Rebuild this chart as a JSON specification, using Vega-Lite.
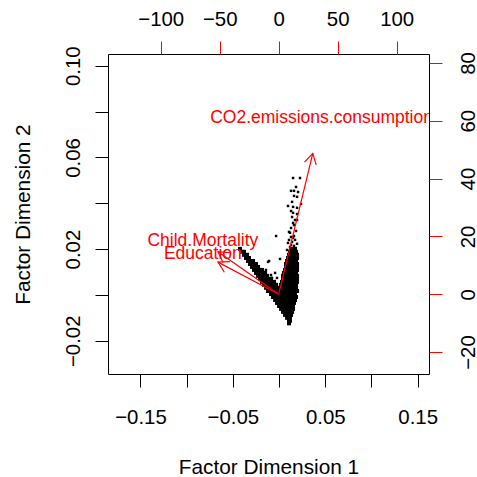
{
  "$schema": "https://vega.github.io/schema/vega-lite/v6.json",
  "width": 321,
  "height": 320,
  "autosize": {"type": "none"},
  "padding": {"left": 108, "top": 54, "right": 48, "bottom": 103},
  "background": "white",
  "config": {
    "view": {"stroke": "black", "strokeWidth": 1},
    "font": "Liberation Sans",
    "axis": {
      "grid": false,
      "domain": false,
      "labelFont": "Liberation Sans",
      "titleFont": "Liberation Sans",
      "labelFontSize": 20.4,
      "titleFontSize": 20.8,
      "labelColor": "black",
      "titleColor": "black",
      "titleFontWeight": "normal",
      "tickSize": 13,
      "tickWidth": 1,
      "labelOverlap": false,
      "labelFlush": false
    }
  },
  "datasets": {
    "sparse": [
      {"x": 0.0152, "y": 0.0510}, {"x": 0.0227, "y": 0.0510}, {"x": 0.0184, "y": 0.0471}, {"x": 0.0130, "y": 0.0454},
      {"x": 0.0162, "y": 0.0454}, {"x": 0.0206, "y": 0.0449}, {"x": 0.0162, "y": 0.0432}, {"x": 0.0195, "y": 0.0428},
      {"x": 0.0141, "y": 0.0406}, {"x": 0.0238, "y": 0.0397}, {"x": 0.0097, "y": 0.0388}, {"x": 0.0152, "y": 0.0384},
      {"x": 0.0195, "y": 0.0380}, {"x": 0.0130, "y": 0.0366}, {"x": 0.0152, "y": 0.0358}, {"x": 0.0195, "y": 0.0353},
      {"x": 0.0141, "y": 0.0340}, {"x": 0.0173, "y": 0.0327}, {"x": 0.0195, "y": 0.0327}, {"x": 0.0152, "y": 0.0314},
      {"x": 0.0162, "y": 0.0305}, {"x": 0.0130, "y": 0.0292}, {"x": -0.0032, "y": 0.0257}, {"x": 0.0119, "y": 0.0271},
      {"x": 0.0130, "y": 0.0253}, {"x": 0.0152, "y": 0.0249}, {"x": 0.0108, "y": 0.0240}, {"x": 0.0097, "y": 0.0227},
      {"x": 0.0141, "y": 0.0231}, {"x": 0.0195, "y": 0.0223}, {"x": 0.0119, "y": 0.0209}, {"x": -0.0108, "y": 0.0148},
      {"x": 0.0011, "y": 0.0157}, {"x": -0.0141, "y": 0.0109}, {"x": -0.0087, "y": 0.0087}, {"x": -0.0076, "y": 0.0074},
      {"x": -0.0119, "y": 0.0144}, {"x": -0.0043, "y": 0.0096}, {"x": -0.0022, "y": 0.0074}, {"x": 0.0087, "y": 0.0196},
      {"x": 0.0162, "y": 0.0257}, {"x": 0.0184, "y": 0.0279}, {"x": 0.0108, "y": 0.0275}, {"x": 0.0173, "y": 0.0240},
      {"x": 0.0130, "y": 0.0218}, {"x": 0.0162, "y": 0.0214}
    ],
    "dense": [
      {"x": -0.0422, "y": 0.0201}, {"x": 0.0130, "y": 0.0201}, {"x": 0.0173, "y": 0.0201},
      {"x": -0.0400, "y": 0.0188}, {"x": -0.0379, "y": 0.0188}, {"x": 0.0119, "y": 0.0188}, {"x": 0.0151, "y": 0.0188}, {"x": 0.0184, "y": 0.0188},
      {"x": -0.0379, "y": 0.0175}, {"x": -0.0346, "y": 0.0175}, {"x": 0.0108, "y": 0.0175}, {"x": 0.0141, "y": 0.0175}, {"x": 0.0173, "y": 0.0175}, {"x": 0.0195, "y": 0.0175},
      {"x": -0.0357, "y": 0.0161}, {"x": -0.0325, "y": 0.0161}, {"x": 0.0097, "y": 0.0161}, {"x": 0.0130, "y": 0.0161}, {"x": 0.0162, "y": 0.0161}, {"x": 0.0195, "y": 0.0161},
      {"x": -0.0335, "y": 0.0148}, {"x": -0.0303, "y": 0.0148}, {"x": -0.0281, "y": 0.0148}, {"x": 0.0087, "y": 0.0148}, {"x": 0.0119, "y": 0.0148}, {"x": 0.0151, "y": 0.0148}, {"x": 0.0184, "y": 0.0148},
      {"x": -0.0314, "y": 0.0135}, {"x": -0.0281, "y": 0.0135}, {"x": -0.0249, "y": 0.0135}, {"x": 0.0076, "y": 0.0135}, {"x": 0.0108, "y": 0.0135}, {"x": 0.0141, "y": 0.0135}, {"x": 0.0173, "y": 0.0135}, {"x": 0.0195, "y": 0.0135},
      {"x": -0.0292, "y": 0.0122}, {"x": -0.0260, "y": 0.0122}, {"x": -0.0227, "y": 0.0122}, {"x": 0.0076, "y": 0.0122}, {"x": 0.0108, "y": 0.0122}, {"x": 0.0141, "y": 0.0122}, {"x": 0.0173, "y": 0.0122}, {"x": 0.0195, "y": 0.0122},
      {"x": -0.0271, "y": 0.0109}, {"x": -0.0238, "y": 0.0109}, {"x": -0.0206, "y": 0.0109}, {"x": -0.0184, "y": 0.0109}, {"x": 0.0065, "y": 0.0109}, {"x": 0.0097, "y": 0.0109}, {"x": 0.0130, "y": 0.0109}, {"x": 0.0162, "y": 0.0109}, {"x": 0.0195, "y": 0.0109},
      {"x": -0.0249, "y": 0.0096}, {"x": -0.0216, "y": 0.0096}, {"x": -0.0184, "y": 0.0096}, {"x": -0.0151, "y": 0.0096}, {"x": 0.0054, "y": 0.0096}, {"x": 0.0087, "y": 0.0096}, {"x": 0.0119, "y": 0.0096}, {"x": 0.0151, "y": 0.0096}, {"x": 0.0184, "y": 0.0096},
      {"x": -0.0227, "y": 0.0083}, {"x": -0.0195, "y": 0.0083}, {"x": -0.0162, "y": 0.0083}, {"x": -0.0130, "y": 0.0083}, {"x": 0.0043, "y": 0.0083}, {"x": 0.0076, "y": 0.0083}, {"x": 0.0108, "y": 0.0083}, {"x": 0.0141, "y": 0.0083}, {"x": 0.0173, "y": 0.0083}, {"x": 0.0195, "y": 0.0083},
      {"x": -0.0206, "y": 0.0070}, {"x": -0.0173, "y": 0.0070}, {"x": -0.0141, "y": 0.0070}, {"x": -0.0108, "y": 0.0070}, {"x": -0.0087, "y": 0.0070}, {"x": 0.0043, "y": 0.0070}, {"x": 0.0076, "y": 0.0070}, {"x": 0.0108, "y": 0.0070}, {"x": 0.0141, "y": 0.0070}, {"x": 0.0173, "y": 0.0070}, {"x": 0.0195, "y": 0.0070},
      {"x": -0.0184, "y": 0.0057}, {"x": -0.0151, "y": 0.0057}, {"x": -0.0119, "y": 0.0057}, {"x": -0.0087, "y": 0.0057}, {"x": -0.0054, "y": 0.0057}, {"x": 0.0032, "y": 0.0057}, {"x": 0.0065, "y": 0.0057}, {"x": 0.0097, "y": 0.0057}, {"x": 0.0130, "y": 0.0057}, {"x": 0.0162, "y": 0.0057}, {"x": 0.0195, "y": 0.0057},
      {"x": -0.0162, "y": 0.0044}, {"x": -0.0130, "y": 0.0044}, {"x": -0.0097, "y": 0.0044}, {"x": -0.0065, "y": 0.0044}, {"x": -0.0032, "y": 0.0044}, {"x": 0.0022, "y": 0.0044}, {"x": 0.0054, "y": 0.0044}, {"x": 0.0087, "y": 0.0044}, {"x": 0.0119, "y": 0.0044}, {"x": 0.0151, "y": 0.0044}, {"x": 0.0184, "y": 0.0044},
      {"x": -0.0141, "y": 0.0031}, {"x": -0.0108, "y": 0.0031}, {"x": -0.0076, "y": 0.0031}, {"x": -0.0043, "y": 0.0031}, {"x": -0.0011, "y": 0.0031}, {"x": 0.0022, "y": 0.0031}, {"x": 0.0054, "y": 0.0031}, {"x": 0.0087, "y": 0.0031}, {"x": 0.0119, "y": 0.0031}, {"x": 0.0151, "y": 0.0031}, {"x": 0.0184, "y": 0.0031},
      {"x": -0.0119, "y": 0.0017}, {"x": -0.0087, "y": 0.0017}, {"x": -0.0054, "y": 0.0017}, {"x": -0.0022, "y": 0.0017}, {"x": 0.0011, "y": 0.0017}, {"x": 0.0043, "y": 0.0017}, {"x": 0.0076, "y": 0.0017}, {"x": 0.0108, "y": 0.0017}, {"x": 0.0141, "y": 0.0017}, {"x": 0.0173, "y": 0.0017}, {"x": 0.0195, "y": 0.0017},
      {"x": -0.0087, "y": 0.0004}, {"x": -0.0054, "y": 0.0004}, {"x": -0.0022, "y": 0.0004}, {"x": 0.0011, "y": 0.0004}, {"x": 0.0043, "y": 0.0004}, {"x": 0.0076, "y": 0.0004}, {"x": 0.0108, "y": 0.0004}, {"x": 0.0141, "y": 0.0004}, {"x": 0.0173, "y": 0.0004},
      {"x": -0.0065, "y": -0.0009}, {"x": -0.0032, "y": -0.0009}, {"x": 0.0000, "y": -0.0009}, {"x": 0.0032, "y": -0.0009}, {"x": 0.0065, "y": -0.0009}, {"x": 0.0097, "y": -0.0009}, {"x": 0.0130, "y": -0.0009}, {"x": 0.0162, "y": -0.0009}, {"x": 0.0184, "y": -0.0009},
      {"x": -0.0043, "y": -0.0022}, {"x": -0.0011, "y": -0.0022}, {"x": 0.0022, "y": -0.0022}, {"x": 0.0054, "y": -0.0022}, {"x": 0.0087, "y": -0.0022}, {"x": 0.0119, "y": -0.0022}, {"x": 0.0151, "y": -0.0022}, {"x": 0.0173, "y": -0.0022},
      {"x": -0.0022, "y": -0.0035}, {"x": 0.0011, "y": -0.0035}, {"x": 0.0043, "y": -0.0035}, {"x": 0.0076, "y": -0.0035}, {"x": 0.0108, "y": -0.0035}, {"x": 0.0141, "y": -0.0035}, {"x": 0.0162, "y": -0.0035},
      {"x": 0.0000, "y": -0.0048}, {"x": 0.0032, "y": -0.0048}, {"x": 0.0065, "y": -0.0048}, {"x": 0.0097, "y": -0.0048}, {"x": 0.0130, "y": -0.0048}, {"x": 0.0151, "y": -0.0048},
      {"x": 0.0022, "y": -0.0061}, {"x": 0.0054, "y": -0.0061}, {"x": 0.0087, "y": -0.0061}, {"x": 0.0119, "y": -0.0061}, {"x": 0.0151, "y": -0.0061},
      {"x": 0.0043, "y": -0.0074}, {"x": 0.0076, "y": -0.0074}, {"x": 0.0108, "y": -0.0074}, {"x": 0.0141, "y": -0.0074},
      {"x": 0.0065, "y": -0.0087}, {"x": 0.0097, "y": -0.0087}, {"x": 0.0130, "y": -0.0087},
      {"x": 0.0087, "y": -0.0100}, {"x": 0.0119, "y": -0.0100},
      {"x": 0.0108, "y": -0.0113}, {"x": 0.0119, "y": -0.0113},
      {"x": 0.0108, "y": -0.0124}
    ],
    "arrows": [
      {"var": "CO2.emissions.consumption", "x": 28.9, "y": 48.7},
      {"var": "Child.Mortality", "x": -51.5, "y": 14.7},
      {"var": "Education", "x": -51.5, "y": 11.1}
    ],
    "labels": [
      {"var": "CO2.emissions.consumption", "x": 36.3, "y": 60.9},
      {"var": "Child.Mortality", "x": -64.3, "y": 18.3},
      {"var": "Education", "x": -64.3, "y": 13.8}
    ]
  },
  "layer": [
    {
      "encoding": {
        "x": {
          "field": "x", "type": "quantitative",
          "scale": {"domain": [-0.1851, 0.1623], "nice": false, "zero": false},
          "axis": {
            "orient": "bottom", "title": "Factor Dimension 1",
            "values": [-0.15, -0.1, -0.05, 0, 0.05, 0.1, 0.15],
            "format": ".2f",
            "labelExpr": "abs(round(datum.value*100)) % 10 == 5 ? datum.label : ''",
            "tickColor": "black", "labelPadding": 20,
            "titleBaseline": "top", "titleY": 83
          }
        },
        "y": {
          "field": "y", "type": "quantitative",
          "scale": {"domain": [-0.0345, 0.1051], "nice": false, "zero": false},
          "axis": {
            "orient": "left", "title": "Factor Dimension 2",
            "values": [-0.02, 0, 0.02, 0.04, 0.06, 0.08, 0.1],
            "format": ".2f",
            "labelExpr": "(round(datum.value*100)+2) % 4 == 0 ? datum.label : ''",
            "tickColor": "black",
            "labelAngle": 270, "labelAlign": "center", "labelBaseline": "alphabetic", "labelPadding": 16,
            "titleAngle": 270, "titleBaseline": "alphabetic", "titleX": -79
          }
        }
      },
      "layer": [
        {"data": {"name": "sparse"}, "mark": {"type": "point", "shape": "square", "filled": true, "size": 6, "color": "black", "opacity": 1, "strokeWidth": 0}},
        {"data": {"name": "dense"}, "mark": {"type": "point", "shape": "square", "filled": true, "size": 16, "color": "black", "opacity": 1, "strokeWidth": 0}}
      ]
    },
    {
      "encoding": {
        "x": {
          "field": "x", "type": "quantitative",
          "scale": {"domain": [-144.7, 127.4], "nice": false, "zero": false},
          "axis": {
            "orient": "top", "title": null,
            "values": [-100, -50, 0, 50, 100],
            "tickColor": "red", "labelPadding": 16, "labelBaseline": "alphabetic"
          }
        },
        "y": {
          "field": "y", "type": "quantitative",
          "scale": {"domain": [-27.6, 83.1], "nice": false, "zero": false},
          "axis": {
            "orient": "right", "title": null,
            "values": [-20, 0, 20, 40, 60, 80],
            "tickColor": "red",
            "labelAngle": 270, "labelAlign": "center", "labelBaseline": "alphabetic", "labelPadding": 32
          }
        }
      },
      "layer": [
        {
          "data": {"name": "arrows"},
          "mark": {"type": "rule", "color": "red", "strokeWidth": 1.2},
          "encoding": {"x2": {"datum": 0}, "y2": {"datum": 0}}
        },
        {
          "data": {"name": "arrows"},
          "transform": [{"calculate": "atan2(datum.x*1.18, datum.y*2.89)*180/PI", "as": "ang"}],
          "mark": {"type": "point", "shape": "M-0.5,0.866L0,0L0.5,0.866", "filled": false, "size": 576, "stroke": "red", "strokeWidth": 1.2, "opacity": 1},
          "encoding": {"angle": {"field": "ang", "type": "quantitative", "scale": null}}
        },
        {
          "data": {"name": "labels"},
          "mark": {"type": "text", "color": "red", "fontSize": 17.5, "font": "Liberation Sans", "align": "center", "baseline": "middle", "clip": true},
          "encoding": {"text": {"field": "var"}}
        }
      ]
    }
  ],
  "resolve": {"scale": {"x": "independent", "y": "independent"}}
}
